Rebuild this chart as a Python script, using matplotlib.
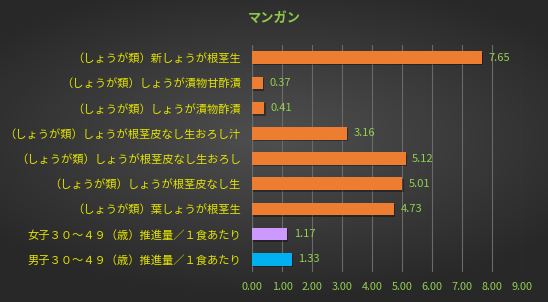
import numpy as np
import matplotlib.pyplot as plt

plt.rcParams['font.family'] = ['Noto Sans CJK JP', 'DejaVu Sans']

# データ（上から順）
labels = [
    "（しょうが類）新しょうが根茎生",
    "（しょうが類）しょうが漬物甘酢漬",
    "（しょうが類）しょうが漬物酢漬",
    "（しょうが類）しょうが根茎皮なし生おろし汁",
    "（しょうが類）しょうが根茎皮なし生おろし",
    "（しょうが類）しょうが根茎皮なし生",
    "（しょうが類）葉しょうが根茎生",
    "女子３０～４９（歳）推進量／１食あたり",
    "男子３０～４９（歳）推進量／１食あたり",
]
values = [7.65, 0.37, 0.41, 3.16, 5.12, 5.01, 4.73, 1.17, 1.33]
bar_colors = ["#ed7d31"] * 7 + ["#cc99ff", "#00b0f0"]
xticks = np.arange(0, 10, 1)

fig = plt.figure(figsize=(5.48, 3.02), dpi=100)

# 背景のグラデーション
bg = fig.add_axes([0, 0, 1, 1])
yy, xx = np.mgrid[-1:1:200j, -1:1:360j]
r = np.sqrt((xx * 0.9) ** 2 + (yy * 1.1 + 0.1) ** 2)
shade = np.clip(0.31 - 0.13 * r, 0.16, 0.31)
bg.imshow(np.dstack([shade] * 3), aspect='auto', extent=[0, 1, 0, 1])
bg.axis('off')

ax = fig.add_axes([252 / 548, 1 - 272 / 302, 270 / 548, 227 / 302])
ax.set_facecolor('none')
pos = np.arange(len(values))
# 影
ax.barh(pos + 0.06, values, height=0.5, left=0.04, color='black', alpha=0.35, zorder=2)
ax.barh(pos, values, height=0.5, color=bar_colors, zorder=3)
for p, v in zip(pos, values):
    ax.text(v + 0.22, p, f"{v:.2f}", va='center', ha='left', color='#92d050', fontsize=8)

ax.set_xlim(0, 9)
ax.set_ylim(len(values) - 0.5, -0.5)
ax.set_xticks(xticks)
ax.set_xticklabels([f"{t:.2f}" for t in xticks], color='#92d050', fontsize=7.8)
ax.set_yticks(pos)
ax.set_yticklabels(labels, color='#e4e400', fontsize=8.1)
ax.tick_params(length=0, pad=7)
ax.tick_params(axis='y', pad=8)
ax.grid(axis='x', color='#6a6a6a', linewidth=0.8, zorder=0)
ax.axvline(0, color='#9a9a9a', linewidth=0.8, zorder=1)
for s in ax.spines.values():
    s.set_visible(False)

fig.text(0.5, 1 - 18 / 302, "マンガン", ha='center', va='center', color='#8fc94a',
         fontsize=9.5, fontweight='bold')

fig.savefig('out.png', dpi=100)
